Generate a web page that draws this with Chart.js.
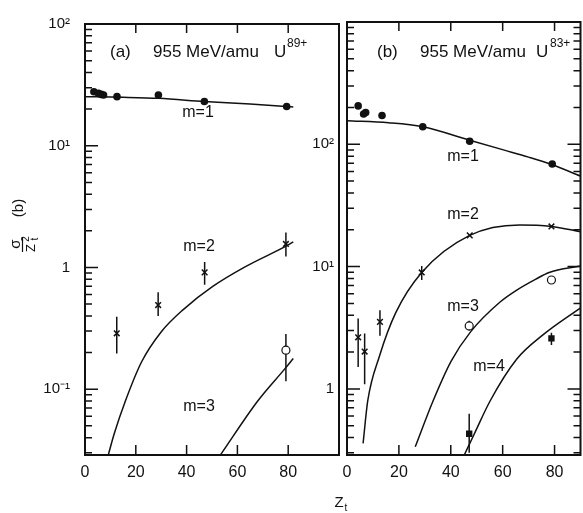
<!DOCTYPE html>
<html>
<head>
<meta charset="utf-8">
<script src="https://cdn.jsdelivr.net/npm/chart.js@4"></script>
<style>
html, body { margin: 0; padding: 0; background: #fff; overflow: hidden; }
#wrap { position: relative; width: 583px; height: 513px; overflow: hidden; background: #fff; }
canvas { position: absolute; top: 0; }
#chart_a { left: 0; }
#chart_b { left: 290px; }
</style>
</head>
<body>
<div id="wrap">
  <canvas id="chart_a" width="347" height="513"></canvas>
  <canvas id="chart_b" width="296" height="513"></canvas>
</div>
<script>
// ---- panel (a): 955 MeV/amu U89+ ----
var aZ1 = [3.5, 5.3, 6.4, 7.3, 12.6, 28.9, 47.0, 79.4];
var aM1 = [27.8, 26.9, 26.4, 26.1, 25.3, 26.1, 23.1, 21.0];
var aZ2 = [12.5, 28.8, 47.1, 79.1];
var aM2 = [0.288, 0.491, 0.911, 1.56];
var aM2Lo = [0.196, 0.40, 0.72, 1.23];
var aM2Hi = [0.393, 0.625, 1.11, 1.94];
var aZ3 = [79.1];
var aM3 = [0.209];
var aM3Lo = [0.116];
var aM3Hi = [0.284];
// fitted curves (a)
var aFitX1 = [0, 15, 29, 47, 65, 79, 82];
var aFit1 = [25.3, 25.0, 24.5, 23.1, 22.0, 21.0, 20.8];
var aFitX2 = [9.2, 11.5, 15.9, 22.3, 29.9, 38.8, 50.3, 63, 79.5, 82];
var aFit2 = [0.029, 0.043, 0.080, 0.168, 0.294, 0.453, 0.698, 1.01, 1.51, 1.62];
var aFitX3 = [53.4, 68, 78.9, 82];
var aFit3 = [0.029, 0.080, 0.149, 0.179];

// ---- panel (b): 955 MeV/amu U83+ ----
var bZ1 = [4.3, 6.4, 7.2, 13.5, 29.2, 47.3, 79.1];
var bM1 = [206, 177, 182, 172, 139, 106, 69];
var bZ2 = [4.3, 6.8, 12.7, 28.8, 47.3, 78.8];
var bM2 = [2.64, 2.02, 3.53, 8.95, 18.0, 21.3];
var bErrZ2 = [4.3, 6.8, 12.7, 28.8];
var bM2Lo = [1.51, 1.09, 2.72, 7.77];
var bM2Hi = [3.76, 2.84, 4.39, 10.1];
var bZ3 = [47.1, 78.8];
var bM3 = [3.27, 7.77];
var bErrZ3 = [47.1];
var bM3Lo = [3.0];
var bM3Hi = [3.6];
var bZ4 = [47.1, 78.8];
var bM4 = [0.43, 2.59];
var bM4Lo = [0.30, 2.29];
var bM4Hi = [0.625, 2.88];
// fitted curves (b)
var bFitX1 = [0, 16, 29.2, 47.3, 60.3, 70, 79.1, 90];
var bFit1 = [156, 150, 139, 108, 90, 78.5, 68, 55];
var bFitX2 = [6.2, 8.0, 12.5, 18.8, 28.8, 47.3, 66.5, 78.8, 90];
var bFit2 = [0.358, 0.80, 1.85, 4.2, 8.95, 18.0, 21.9, 21.3, 19.3];
var bFitX3 = [26.3, 33.2, 40.1, 47.7, 59, 65.3, 72.8, 77.9, 90];
var bFit3 = [0.336, 0.80, 1.68, 2.94, 5.13, 6.4, 7.9, 8.95, 10.1];
var bFitX4 = [45.2, 49.1, 55.2, 65.3, 75.4, 90];
var bFit4 = [0.288, 0.43, 0.80, 1.74, 2.75, 4.6];

// axis ticks
var aXLabels = [0, 20, 40, 60, 80];
var bXLabels = [0, 20, 40, 60, 80];
var aYTicks = [100, 10, 1, 0.1];
var aYTickLabels = ['10\u00B2', '10\u00B9', '1', '10\u207B\u00B9'];
var bYTicks = [100, 10, 1];
var bYTickLabels = ['10\u00B2', '10\u00B9', '1'];

var FONT = "'Liberation Sans', Arial, sans-serif";
var INK = '#111';
Chart.defaults.font.family = FONT;
Chart.defaults.color = INK;

function pts(xs, ys) {
  return xs.map(function (x, i) { return { x: x, y: ys[i] }; });
}

function errPts(xs, lo, hi) {
  var out = [];
  for (var i = 0; i < xs.length; i++) {
    out.push({ x: xs[i], y: lo[i] }, { x: xs[i], y: hi[i] }, { x: xs[i], y: null });
  }
  return out;
}

var DOT = { pointStyle: 'circle', pointRadius: 3.8, backgroundColor: INK, borderWidth: 0 };
var CROSS = { pointStyle: 'crossRot', pointRadius: 4, borderWidth: 1.5, backgroundColor: INK };
var RING = { pointStyle: 'circle', pointRadius: 4, backgroundColor: '#fff', borderWidth: 1.2 };
var SQUARE = { pointStyle: 'rect', pointRadius: 4.5, backgroundColor: INK, borderWidth: 0 };

function marks(xs, ys, style) {
  return Object.assign({ data: pts(xs, ys), showLine: false, borderColor: INK, pointHoverRadius: 0 }, style);
}
function bars(xs, lo, hi) {
  return { data: errPts(xs, lo, hi), showLine: true, spanGaps: false, pointRadius: 0, borderColor: INK, borderWidth: 1.5 };
}
function curve(xs, ys) {
  return { data: pts(xs, ys), showLine: true, pointRadius: 0, borderColor: INK, borderWidth: 1.5,
           cubicInterpolationMode: 'monotone', fill: false };
}

// frame, inward ticks and text labels
function makeFrame(o) {
  return {
    id: 'frame',
    afterDatasetsDraw: function (chart) {
      var ctx = chart.ctx, a = chart.chartArea, x = chart.scales.x, y = chart.scales.y;
      ctx.save();
      ctx.strokeStyle = INK;
      ctx.lineWidth = 1.5;
      ctx.beginPath();
      o.xMarks.forEach(function (v) {
        var px = x.getPixelForValue(v);
        ctx.moveTo(px, a.top); ctx.lineTo(px, a.top + 9);
        ctx.moveTo(px, a.bottom); ctx.lineTo(px, a.bottom - 10);
      });
      for (var e = -2; e <= 3; e++) {
        for (var k = 1; k <= 9; k++) {
          var v = k * Math.pow(10, e);
          if (v < y.min || v > y.max) continue;
          var py = y.getPixelForValue(v), len = k === 1 ? 13 : 7;
          if (o.tickLeft) { ctx.moveTo(a.left, py); ctx.lineTo(a.left + len, py); }
          if (o.tickRight) { ctx.moveTo(a.right, py); ctx.lineTo(a.right - len, py); }
        }
      }
      ctx.stroke();
      ctx.lineWidth = 2;
      ctx.strokeRect(a.left, a.top, a.right - a.left, a.bottom - a.top);

      ctx.fillStyle = INK;
      ctx.textBaseline = 'middle';
      o.texts.forEach(function (t) {
        ctx.save();
        ctx.translate(t.x, t.y);
        if (t.rot) ctx.rotate(-Math.PI / 2);
        ctx.font = t.s + 'px ' + FONT;
        ctx.textAlign = t.al || 'center';
        ctx.fillText(t.t, 0, 0);
        ctx.restore();
      });
      (o.lines || []).forEach(function (l) {
        ctx.lineWidth = 1.2;
        ctx.beginPath(); ctx.moveTo(l[0], l[1]); ctx.lineTo(l[2], l[3]); ctx.stroke();
      });
      ctx.restore();
    }
  };
}

function panel(id, p) {
  return new Chart(document.getElementById(id), {
    type: 'scatter',
    data: { datasets: p.datasets },
    options: {
      responsive: false,
      animation: false,
      events: [],
      layout: { padding: { top: 16, left: 0, right: 0, bottom: 0 } },
      plugins: { legend: { display: false }, tooltip: { enabled: false } },
      scales: {
        x: {
          type: 'linear', min: 0, max: p.xMax,
          afterFit: function (s) { s.height = 58; },
          grid: { display: false, drawTicks: false },
          border: { display: false },
          ticks: {
            stepSize: 20, includeBounds: false, autoSkip: false, maxRotation: 0, padding: 8,
            font: { size: 16 }, color: INK,
            callback: function (v) { return p.xLabels.indexOf(v) >= 0 ? String(v) : ''; }
          }
        },
        y: {
          type: 'logarithmic', min: p.yMin, max: p.yMax,
          afterFit: function (s) { s.width = p.yWidth; },
          grid: { display: false, drawTicks: false },
          border: { display: false },
          ticks: {
            autoSkip: false, padding: p.yPad, font: { size: 15 }, color: INK,
            callback: function (v) {
              var i = p.yTicks.findIndex(function (t) { return Math.abs(t - v) / t < 1e-6; });
              return i < 0 ? '' : p.yTickLabels[i];
            }
          }
        }
      }
    },
    plugins: [makeFrame(p.frame)]
  });
}

var chartA = panel('chart_a', {
  xMax: 100, xLabels: aXLabels,
  yMin: 0.0288, yMax: 100, yWidth: 85, yPad: 15,
  yTicks: aYTicks, yTickLabels: aYTickLabels,
  datasets: [
    marks(aZ1, aM1, DOT),
    marks(aZ2, aM2, CROSS),
    marks(aZ3, aM3, RING),
    bars(aZ2, aM2Lo, aM2Hi),
    bars(aZ3, aM3Lo, aM3Hi),
    curve(aFitX1, aFit1),
    curve(aFitX2, aFit2),
    curve(aFitX3, aFit3)
  ],
  frame: {
    xMarks: [20, 40, 60, 80], tickLeft: true, tickRight: false,
    texts: [
      { t: '(a)', x: 110, y: 52, s: 17, al: 'left' },
      { t: '955 MeV/amu', x: 153, y: 52, s: 17, al: 'left' },
      { t: 'U', x: 274, y: 52, s: 17, al: 'left' },
      { t: '89+', x: 287, y: 44, s: 12, al: 'left' },
      { t: 'm=1', x: 198, y: 113, s: 16 },
      { t: 'm=2', x: 199, y: 247, s: 16 },
      { t: 'm=3', x: 199, y: 407, s: 16 },
      { t: '(b)', x: 19, y: 208, s: 15, rot: true },
      { t: '\u03C3', x: 16, y: 244, s: 15, rot: true },
      { t: 'Z', x: 31, y: 248, s: 13, rot: true },
      { t: '2', x: 26, y: 239, s: 10, rot: true },
      { t: 't', x: 35, y: 239, s: 10, rot: true }
    ],
    lines: [[22.5, 237, 22.5, 252]]
  }
});

var chartB = panel('chart_b', {
  xMax: 90, xLabels: bXLabels,
  yMin: 0.288, yMax: 1000, yWidth: 57, yPad: 13,
  yTicks: bYTicks, yTickLabels: bYTickLabels,
  datasets: [
    marks(bZ1, bM1, DOT),
    marks(bZ2, bM2, CROSS),
    marks(bZ3, bM3, RING),
    marks(bZ4, bM4, SQUARE),
    bars(bErrZ2, bM2Lo, bM2Hi),
    bars(bErrZ3, bM3Lo, bM3Hi),
    bars(bZ4, bM4Lo, bM4Hi),
    curve(bFitX1, bFit1),
    curve(bFitX2, bFit2),
    curve(bFitX3, bFit3),
    curve(bFitX4, bFit4)
  ],
  frame: {
    xMarks: [20, 40, 60, 80], tickLeft: true, tickRight: true,
    texts: [
      { t: '(b)', x: 87, y: 52, s: 17, al: 'left' },
      { t: '955 MeV/amu', x: 130, y: 52, s: 17, al: 'left' },
      { t: 'U', x: 246, y: 52, s: 17, al: 'left' },
      { t: '83+', x: 260, y: 44, s: 12, al: 'left' },
      { t: 'm=1', x: 173, y: 157, s: 16 },
      { t: 'm=2', x: 173, y: 215, s: 16 },
      { t: 'm=3', x: 173, y: 307, s: 16 },
      { t: 'm=4', x: 199, y: 367, s: 16 },
      { t: 'Z', x: 49, y: 503, s: 15 },
      { t: 't', x: 56, y: 508, s: 10 }
    ]
  }
});
</script>
</body>
</html>
